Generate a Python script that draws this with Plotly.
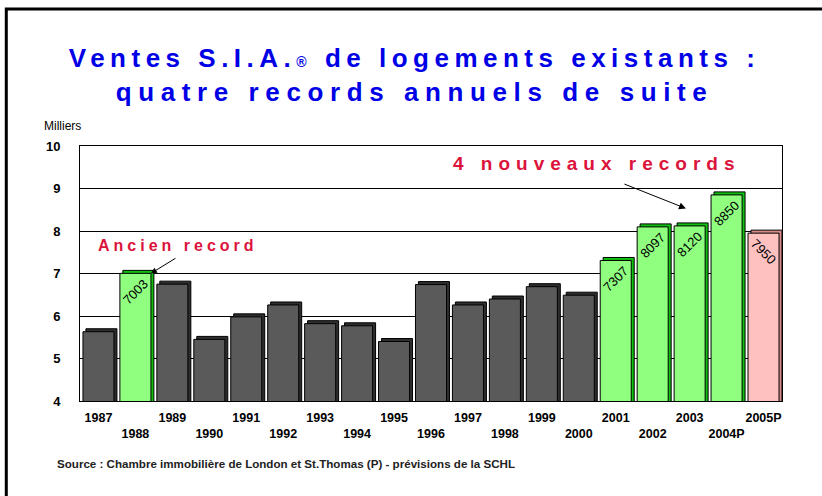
import plotly.graph_objects as go

# --- data (milliers de ventes) ---
years = ['1987', '1988', '1989', '1990', '1991', '1992', '1993', '1994', '1995', '1996',
         '1997', '1998', '1999', '2000', '2001', '2002', '2003', '2004P', '2005P']
sales = [5.63, 7.003, 6.75, 5.45, 5.98, 6.26, 5.82, 5.77, 5.40, 6.74,
         6.26, 6.40, 6.69, 6.49, 7.307, 8.097, 8.120, 8.850, 7.950]
kind = ['base', 'record', 'base', 'base', 'base', 'base', 'base', 'base', 'base', 'base',
        'base', 'base', 'base', 'base', 'record', 'record', 'record', 'record', 'forecast']

FONT = 'Liberation Sans, Arial, sans-serif'
face = {'base': '#5a5a5a', 'record': '#90ff80', 'forecast': '#ffc0c0'}
side = {'base': '#2e2e2e', 'record': '#10c010', 'forecast': '#d88a8a'}
W = 0.84

fig = go.Figure()

# "3D" depth of the bars, drawn behind the front faces
fig.add_bar(x=years, y=[v + 0.07 for v in sales], width=W, offset=-W / 2 + 0.08,
            marker=dict(color=[side[k] for k in kind], line=dict(color='black', width=1)),
            hoverinfo='skip', showlegend=False)

for k, angle in [('base', 0), ('record', -45), ('forecast', 45)]:
    xs = [y for y, kk in zip(years, kind) if kk == k]
    vs = [v for v, kk in zip(sales, kind) if kk == k]
    fig.add_bar(x=xs, y=vs, width=W,
                marker=dict(color=face[k], line=dict(color='black', width=1)),
                text=None if k == 'base' else [f'{v * 1000:.0f}' for v in vs],
                textposition='inside', insidetextanchor='end', textangle=angle,
                constraintext='none', textfont=dict(family=FONT, size=13, color='black'),
                showlegend=False)

ticktext = [y if i % 2 == 0 else '<br>' + y for i, y in enumerate(years)]

fig.update_layout(
    width=822, height=496, barmode='overlay',
    margin=dict(l=80, r=40, t=146, b=95, autoexpand=False),
    paper_bgcolor='white', plot_bgcolor='white',
    font=dict(family=FONT, color='black'),
    xaxis=dict(type='category', tickmode='array', tickvals=years, ticktext=ticktext,
               tickfont=dict(size=12.5, weight='bold'), tickangle=0, showline=True, mirror=True,
               linecolor='black', linewidth=1, showgrid=False, ticks='',
               ticklabelstandoff=5),
    yaxis=dict(range=[4, 10], dtick=1, showgrid=True, gridcolor='black', gridwidth=1,
               showline=True, mirror=True, linecolor='black', linewidth=1,
               tickfont=dict(size=13, weight='bold'), ticks='', ticklabelstandoff=16,
               zeroline=False),
    shapes=[dict(type='rect', xref='paper', yref='paper', x0=-0.105, x1=1.2,
                 y0=-0.5, y1=1.537, line=dict(color='black', width=3))],
    annotations=[
        dict(xref='paper', yref='paper', x=0.477, y=1.278, yanchor='middle', showarrow=False,
             text='Ventes S.I.A.<span style="font-size:14px">®</span> de logements existants :'
                  '<br>quatre records annuels de suite',
             font=dict(size=26, color='#0000e6', weight='bold')),
        dict(xref='paper', yref='paper', x=-0.054, y=1.078, xanchor='left', yanchor='middle',
             showarrow=False, text='Milliers',
             font=dict(size=12, family='Liberation Sans Narrow, ' + FONT)),
        dict(xref='paper', yref='paper', x=-0.0356, y=-0.247, xanchor='left', yanchor='middle',
             showarrow=False,
             text='Source : Chambre immobilière de London et St.Thomas (P) - prévisions de la SCHL',
             font=dict(size=11.6, weight='bold', color='#222')),
        dict(x=2.15, y=7.67, showarrow=False, text='Ancien record',
             font=dict(size=16, color='#dc143c', weight='bold')),
        dict(x=1.42, y=7.003, text='', showarrow=True, ax=26, ay=-16,
             arrowhead=2, arrowsize=1.2, arrowwidth=1, arrowcolor='black'),
        dict(x=13.49, y=9.6, showarrow=False, text='4 nouveaux records',
             font=dict(size=19, color='#dc143c', weight='bold')),
        dict(x=15.9, y=8.53, text='', showarrow=True, ax=-63, ay=-25,
             arrowhead=2, arrowsize=1.4, arrowwidth=1, arrowcolor='black'),
    ],
)

post = """
document.body.style.margin = '0';
function spread() {
  var gd = document.getElementById('{plot_id}');
  gd.querySelectorAll('tspan.line').forEach(function (t) {
    var s = t.textContent;
    if (s.indexOf('Ventes') === 0) t.style.letterSpacing = '5.5px';
    else if (s.indexOf('quatre') === 0) t.style.letterSpacing = '6.6px';
  });
  gd.querySelectorAll('text').forEach(function (t) {
    var s = t.textContent;
    if (s.indexOf('4 nouveaux') === 0) t.style.letterSpacing = '6px';
    else if (s.indexOf('Ancien') === 0) t.style.letterSpacing = '4px';
  });
}
spread();
setTimeout(spread, 0);
document.getElementById('{plot_id}').on('plotly_afterplot', spread);
"""

fig.write_html("out.html", post_script=post, config={'displayModeBar': False})
